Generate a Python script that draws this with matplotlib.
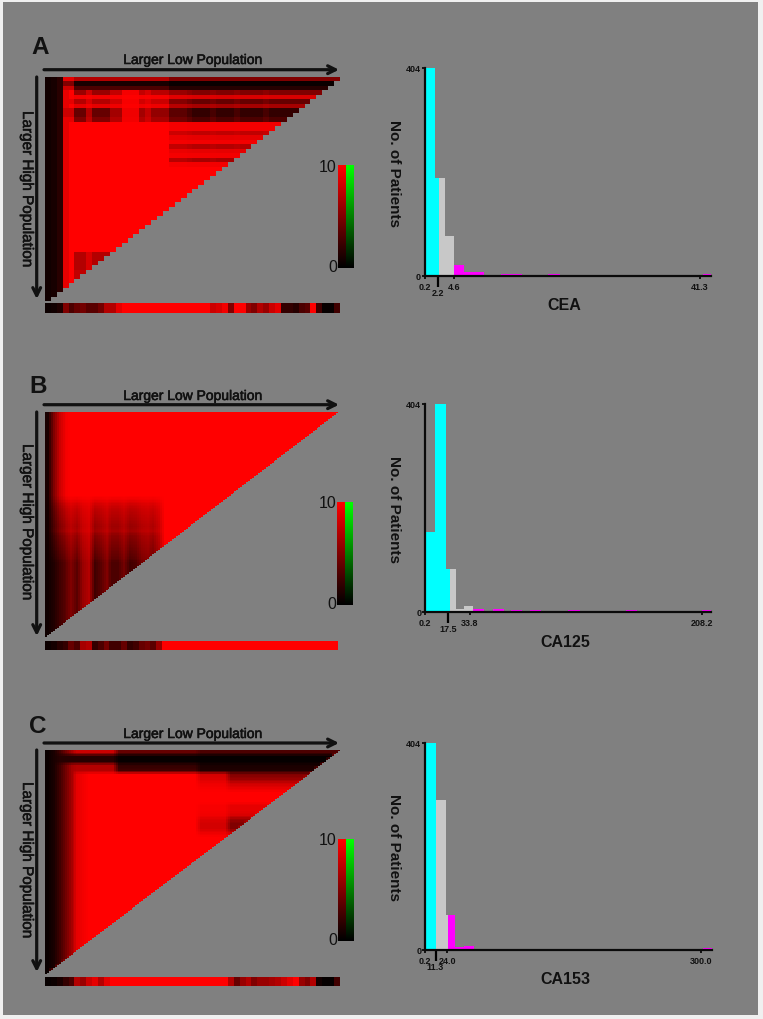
########################################################
# Import statements
import numpy as np
import matplotlib
matplotlib.use('Agg')
import matplotlib.pyplot as plt
import matplotlib.patheffects as pe
from matplotlib.colors import LinearSegmentedColormap
from matplotlib.patches import Rectangle

plt.rcParams['font.family'] = ['Liberation Sans', 'DejaVu Sans']

W, H = 763, 1020
GREY = '#808080'

########################################################
# Heat map values (0-10), 50 columns / 50 rows

a_near = [9, 5, 8, 10, 10, 9, 10, 8, 8, 9] + [10] * 40
a_mid = [7, 1, 3, 6, 9.5, 7, 9, 4, 4, 5] + [10] * 29 + [7, 7, 7, 7, 7.5, 7.5, 8, 8] + [10] * 3
a_far = [5, 0.4, 1.5, 5, 8.5, 4, 6.5, 2, 2, 3, 9.5, 9.5, 7.5, 9, 9.5, 7, 9, 9.5, 6.5, 9.5] + [10] * 30
a_cap = [0.7, 0.9, 1.6, 9, 10] + [10] * 45
a_shade = [1, 1, 1, 1, 1, 1, 1, 0.5, 1, 1, 1, 0.6, 0.6, 0.1, 0.1, 0.1, 0.6, 0.4, 0.7, 0.7, 0.7,
           0.8, 0.8, 0.8, 0.9, 1, 1, 1, 0.9, 1, 1, 1, 0.9, 1, 1, 1, 1, 0.9, 1, 1,
           1, 1, 1, 1, 1, 1, 1, 1, 1, 1]
a_strip = [0.5, 0.7, 1.2, 5, 3, 4, 4.5, 3.5, 3.5, 4.5, 7, 7, 9, 10, 10, 10, 10, 10, 10, 10,
           10, 10, 10, 10, 10, 10, 10, 10, 8, 8.5, 9.5, 5, 10, 10, 6, 5, 7, 6, 8, 9,
           2, 2, 1.5, 3, 3.5, 10, 2.5, 0.3, 0.3, 2.5]

b_top = [1, 5, 8, 9.5] + [10] * 46
b_low = [0.6, 1.3, 2.5, 3.5, 5, 3.5, 6, 7, 2.5, 3.5, 5, 3, 3, 4.5, 2.5, 3, 4.5, 5, 4, 6] + [10] * 30
b_mix = [0] * 19 + [0.1, 0.25, 0.35, 0.4, 0.45, 0.5, 0.55, 0.5, 0.65, 0.7, 0.75, 0.8, 0.85, 0.9] + [1] * 18
b_strip = [0.5, 0.8, 1.5, 2, 4, 3, 6.5, 7, 2, 3, 4.5, 2.5, 2.5, 4, 2, 2.5, 4, 4.5, 3.5, 6] + [10] * 30

c_near = [8, 1.5, 1.5, 7, 7] + [10] * 45
c_mid = [4, 0.3, 0.3, 2, 2.5] + [10] * 45
c_far = [3, 0.2, 0.2, 1, 1.2, 5, 6, 8, 9, 10, 10, 10, 9, 9, 8.5, 6, 5, 5, 8] + [10] * 31
c_cap = [0.4, 1, 2.5, 4.5, 6.5, 9, 9.5] + [10] * 43
c_shade = [1] * 26 + [0.35] * 5 + [1] * 19
c_strip = [0.3, 0.5, 1, 2, 3, 7, 6, 8, 9, 7, 9] + [10] * 20 + \
          [7, 4, 6, 7, 5, 6, 6, 6.5, 7, 8, 9, 10, 6, 5, 7, 0.8, 0.2, 0.2, 2.5]
c_strip = c_strip[:50]

########################################################
# Histograms: bin edges on the marker scale and patient counts

cea_left = [0.2, 1.79, 2.39, 3.23, 4.63, 6.07, 11.54, 18.66, 41.69]
cea_right = [1.79, 2.39, 3.23, 4.63, 6.07, 9.05, 14.68, 20.4, 42.9]
cea_count = [404, 190, 190, 78, 21, 7, 3, 3, 4]
cea_ticks = [0.2, 2.2, 4.6, 41.3]

ca125_left = [0.2, 7.7, 15.47, 18.7, 23, 29.2, 36.2, 50.8, 64.3, 78.8, 107.6, 150.6, 207.7]
ca125_right = [7.7, 15.47, 18.7, 23, 29.2, 36.2, 44.5, 59.3, 72.5, 86.8, 116.3, 158.9, 214.7]
ca125_count = [156, 404, 83, 83, 6, 12, 6, 6, 3, 3, 3, 3, 4]
ca125_ticks = [0.2, 17.5, 33.8, 208.2]

ca153_left = [0.2, 11.8, 22.3, 24.86, 32.8, 42.3, 64, 301.9]
ca153_right = [11.8, 22.3, 24.86, 32.8, 42.3, 53.1, 74.2, 311.6]
ca153_count = [404, 292, 68, 68, 5, 7, 2, 4]
ca153_ticks = [0.2, 11.3, 24.0, 300.0]

########################################################
# Helpers

fig = plt.figure(figsize=(W / 100, H / 100), dpi=100, facecolor='#f0f0f0')
red_map = LinearSegmentedColormap.from_list('kr', ['#000000', '#ff0000'])
green_map = LinearSegmentedColormap.from_list('kg', ['#000000', '#00ff00'])

# Page layer in pixel coordinates, y going down
page = fig.add_axes([0, 0, 1, 1])
page.set_xlim(0, W)
page.set_ylim(H, 0)
page.axis('off')
page.add_patch(Rectangle((3, 3), 755, 1013, fc=GREY, ec='none'))

heavy = [pe.withStroke(linewidth=0.4, foreground='#111111')]


def px_axes(x0, y0, x1, y1):
    # axes from pixel box, y0 is top
    return fig.add_axes([x0 / W, 1 - y1 / H, (x1 - x0) / W, (y1 - y0) / H])


def band_grid(near, mid, far, cap, shade, cuts, shade_from):
    # each cell limited by its column cap and the band value of its row
    grid = np.full((50, 50), np.nan)
    for r in range(50):
        for c in range(50 - r):
            band = near if c < cuts[0] else (mid if c < cuts[1] else far)
            s = shade[c] if r >= shade_from else 1
            grid[r, c] = min(cap[c], 10 - (10 - band[r]) * s)
    return grid


def triangle(grid, rep):
    # repeat each cell, soften the blocks, cut the lower right off along the diagonal
    fine = np.repeat(np.repeat(np.nan_to_num(grid, nan=10), rep, axis=0), rep, axis=1)
    if rep > 1:
        kernel = np.ones(3) / 3
        padded = np.pad(fine, 1, mode='edge')
        padded = np.apply_along_axis(lambda v: np.convolve(v, kernel, mode='same'), 0, padded)
        padded = np.apply_along_axis(lambda v: np.convolve(v, kernel, mode='same'), 1, padded)
        fine = padded[1:-1, 1:-1]
    n = fine.shape[0]
    for r in range(n):
        fine[r, n - r:] = np.nan
    return fine


def draw_heat(fine, strip, box, strip_y):
    x0, y0, x1, y1 = box
    ax = px_axes(x0, y0, x1, y1)
    ax.imshow(np.ma.masked_invalid(fine), cmap=red_map, vmin=0, vmax=10, aspect='auto',
              interpolation='nearest')
    ax.axis('off')
    ax2 = px_axes(x0, strip_y[0], x1, strip_y[1])
    ax2.imshow(np.array([strip]), cmap=red_map, vmin=0, vmax=10, aspect='auto',
               interpolation='nearest')
    ax2.axis('off')


def draw_scale(x0, y0, y1):
    ramp = np.linspace(10, 0, 100).reshape(-1, 1)
    for off, cmap in [(0, red_map), (8, green_map)]:
        ax = px_axes(x0 + off, y0, x0 + off + 8, y1)
        ax.imshow(ramp, cmap=cmap, vmin=0, vmax=10, aspect='auto')
        ax.axis('off')
    page.text(x0 - 1, y0 + 1, '10', fontsize=11.5, ha='right', va='center', color='#111111')
    page.text(x0 - 1, y1 - 1, '0', fontsize=11.5, ha='right', va='center', color='#111111')


def draw_labels(letter, letter_xy, title_y, arrow_y, vert, rot_y):
    page.text(letter_xy[0], letter_xy[1], letter, fontsize=17.5, fontweight='bold',
              ha='center', va='center', color='#111111')
    page.text(193, title_y, 'Larger Low Population', fontsize=10, ha='center', va='center',
              color='#111111', path_effects=heavy)
    page.annotate('', xy=(339, arrow_y), xytext=(44, arrow_y),
                  arrowprops=dict(arrowstyle='->', lw=2.3, color='#111111', mutation_scale=14,
                                  shrinkA=0, shrinkB=0))
    page.annotate('', xy=(36.7, vert[1]), xytext=(36.7, vert[0]),
                  arrowprops=dict(arrowstyle='->', lw=2.3, color='#111111', mutation_scale=14,
                                  shrinkA=0, shrinkB=0))
    page.text(27, rot_y, 'Larger High Population', fontsize=11, rotation=-90, ha='center',
              va='center', color='#111111', path_effects=heavy)


def draw_hist(left, right, count, ticks, name, box, label_xy, ylab_y):
    x0, y0, x1, y1 = box
    ax = px_axes(x0, y0, x1, y1)
    ax.patch.set_alpha(0)
    for a, b, n in zip(left, right, count):
        if a < ticks[1]:
            col = '#00ffff'
        elif a < ticks[2]:
            col = '#c8c8c8'
        else:
            col = '#ff00ff'
        ax.bar(a, n, width=b - a, align='edge', color=col, linewidth=0)
    ax.set_xlim(ticks[0], right[-1])
    ax.set_ylim(0, 404)
    for s in ['top', 'right']:
        ax.spines[s].set_visible(False)
    for s in ['left', 'bottom']:
        ax.spines[s].set_linewidth(1.6)
        ax.spines[s].set_color('#0a0a0a')
    ax.set_yticks([0, 404])
    ax.set_yticklabels(['0', '404'], fontsize=6.5, fontweight='bold', color='#111111')
    ax.tick_params(axis='y', length=2.5, width=1.2, pad=0.5)
    ax.set_xticks([ticks[0], ticks[2], ticks[3]])
    ax.set_xticklabels(['%.1f' % ticks[0], '%.1f' % ticks[2], '%.1f' % ticks[3]],
                       fontsize=6.5, fontweight='bold', color='#111111')
    ax.tick_params(axis='x', which='major', length=2.5, width=1.2, pad=1.5)
    ax.set_xticks([ticks[1]], minor=True)
    ax.set_xticklabels(['%.1f' % ticks[1]], minor=True, fontsize=6.5, fontweight='bold',
                       color='#111111')
    ax.tick_params(axis='x', which='minor', length=8, width=1.6, pad=1)
    page.text(394.5, ylab_y, 'No. of Patients', fontsize=11, fontweight='bold', rotation=-90,
              ha='center', va='center', color='#111111')
    page.text(label_xy[0], label_xy[1], name, fontsize=11.5, fontweight='bold', ha='center',
              va='center', color='#111111')


########################################################
# Panel A

draw_heat(triangle(band_grid(a_near, a_mid, a_far, a_cap, a_shade, (5, 21), 3), 1), a_strip,
          (45, 78, 339, 302), (304, 314))
draw_scale(338, 166, 269)
draw_labels('A', (40, 48), 61, 70.7, (78, 300), 190)
draw_hist(cea_left, cea_right, cea_count, cea_ticks, 'CEA', (424.7, 69, 710.7, 277),
          (564, 306), 174)

########################################################
# Panel B

b_grid = np.full((50, 50), 10.0)
for r in range(50):
    for c in range(50):
        b_grid[r, c] = b_top[c] * (1 - b_mix[r]) + b_low[c] * b_mix[r]
draw_heat(triangle(b_grid, 3), b_strip, (45, 413, 338, 638), (642, 651))
draw_scale(337, 503, 606)
draw_labels('B', (38, 387), 397, 405.7, (413, 637), 523)
draw_hist(ca125_left, ca125_right, ca125_count, ca125_ticks, 'CA125', (425.3, 404.7, 711, 613),
          (565, 643), 510)

########################################################
# Panel C

draw_heat(triangle(band_grid(c_near, c_mid, c_far, c_cap, c_shade, (12, 26), 5), 3), c_strip,
          (45, 751, 339, 975), (978, 987))
draw_scale(338, 840, 942)
draw_labels('C', (38, 727), 735, 744, (751, 973), 861)
draw_hist(ca153_left, ca153_right, ca153_count, ca153_ticks, 'CA153', (425.3, 743.7, 711.7, 951),
          (565, 980), 848)

fig.savefig('out.png', dpi=100, facecolor=fig.get_facecolor())
